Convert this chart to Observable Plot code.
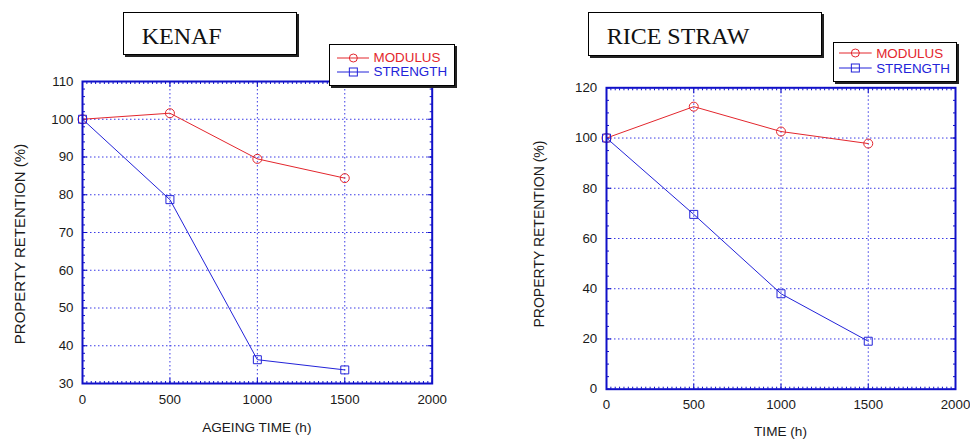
<!DOCTYPE html>
<html><head><meta charset="utf-8">
<script src="https://cdn.jsdelivr.net/npm/d3@7"></script>
<script src="https://cdn.jsdelivr.net/npm/@observablehq/plot@0.6"></script>
<style>
body{margin:0;background:#fff;}
#chart{position:relative;width:970px;height:439px;overflow:hidden;font-family:"Liberation Sans",Arial,sans-serif;}
.panel{position:absolute;top:0;}
.lbl{position:absolute;white-space:nowrap;color:#1a1a1a;}
.box{position:absolute;box-sizing:border-box;border:1.5px solid #000;box-shadow:2px 2px 0 #222;background:#fff;z-index:2;}
.ttl{position:absolute;font-family:"Liberation Serif","Times New Roman",serif;font-size:24px;line-height:24px;color:#111;white-space:nowrap;}
.leg{position:absolute;font-size:13.4px;line-height:13.4px;white-space:nowrap;}
</style></head>
<body><div id="chart"></div>
<script>
const TIME = [0, 500, 1000, 1500];
const KENAF_MODULUS = [100, 101.6, 89.5, 84.4];
const KENAF_STRENGTH = [100, 78.7, 36.3, 33.6];
const RICE_MODULUS = [100, 112.5, 102.6, 97.8];
const RICE_STRENGTH = [100, 69.6, 38.0, 19.1];
const X_TICKS = [0, 500, 1000, 1500, 2000];
const KENAF_Y_TICKS = [30, 40, 50, 60, 70, 80, 90, 100, 110];
const RICE_Y_TICKS = [0, 20, 40, 60, 80, 100, 120];
const SERIES = ["MODULUS", "STRENGTH"];
const TITLES = ["KENAF", "RICE STRAW"];
const X_LABELS = ["AGEING TIME (h)", "TIME (h)"];
const Y_LABEL = "PROPERTY RETENTION (%)";

const RED = "#e3262d", BLUE = "#2323d9", FRAME = "#1010c8", GRID = "#3a3ae6", TXT = "#1a1a1a";
const fmt = d => String(d);

function panel(cfg) {
  const rows = [];
  TIME.forEach((t, i) => {
    rows.push({t, v: cfg.modulus[i], s: SERIES[0]});
    rows.push({t, v: cfg.strength[i], s: SERIES[1]});
  });
  const yMinor = d3.range(cfg.yDomain[0], cfg.yDomain[1] + 0.001, cfg.yMinorStep);
  const xMinor = d3.range(0, 2001, 25);
  const tickOpts = (anchor, size) => ({anchor, tickSize: size, fill: "none", stroke: FRAME, label: null});
  return Plot.plot({
    width: 485, height: 439,
    marginLeft: cfg.m[0], marginRight: cfg.m[1], marginTop: cfg.m[2], marginBottom: cfg.m[3],
    style: {fontFamily: '"Liberation Sans", Arial, sans-serif', fontSize: "13.3px", background: "transparent", overflow: "visible"},
    x: {domain: [0, 2000]},
    y: {domain: cfg.yDomain},
    color: {domain: SERIES, range: [RED, BLUE]},
    symbol: {domain: SERIES, range: ["circle", "square"]},
    marks: [
      Plot.gridX(X_TICKS.slice(1, -1), {stroke: GRID, strokeOpacity: 1, strokeWidth: 1, strokeDasharray: "1.5,2.5"}),
      Plot.gridY(cfg.yTicks.slice(1, -1), {stroke: GRID, strokeOpacity: 1, strokeWidth: 1, strokeDasharray: "1.5,2.5"}),
      Plot.axisX(xMinor, tickOpts("bottom", -2)),
      Plot.axisX(xMinor, tickOpts("top", -2)),
      Plot.axisY(yMinor, tickOpts("left", -3)),
      Plot.axisY(yMinor, tickOpts("right", -3)),
      Plot.axisX(X_TICKS, tickOpts("bottom", -5)),
      Plot.axisX(X_TICKS, tickOpts("top", -5)),
      Plot.axisY(cfg.yTicks, tickOpts("left", -5)),
      Plot.axisY(cfg.yTicks, tickOpts("right", -5)),
      Plot.axisX(X_TICKS, {anchor: "bottom", tickSize: 0, tickPadding: cfg.xPad, tickFormat: fmt, fill: TXT, label: null}),
      Plot.axisY(cfg.yTicks, {anchor: "left", tickSize: 0, tickPadding: cfg.yPad, tickFormat: fmt, fill: TXT, label: null}),
      Plot.line(rows, {x: "t", y: "v", z: "s", stroke: "s", strokeWidth: 1}),
      Plot.dot(rows, {x: "t", y: "v", stroke: "s", symbol: "s", r: 4.5, fill: "none", strokeWidth: 1}),
      Plot.frame({stroke: FRAME, strokeWidth: 2})
    ]
  });
}

const chart = document.getElementById("chart");
function add(el, css) { Object.assign(el.style, css); chart.appendChild(el); return el; }
function label(text, cx, cy, fs, rotate) {
  const d = document.createElement("div");
  d.className = "lbl";
  d.textContent = text;
  add(d, {left: cx + "px", top: cy + "px", fontSize: fs + "px", lineHeight: fs + "px",
    transform: "translate(-50%,-50%)" + (rotate ? " rotate(-90deg)" : "")});
}
function titleBox(text, x0, y0, x1, y1, tx, baseline) {
  const b = document.createElement("div");
  b.className = "box";
  add(b, {left: x0 + "px", top: y0 + "px", width: (x1 - x0) + "px", height: (y1 - y0) + "px"});
  const s = document.createElement("span");
  s.className = "ttl";
  s.textContent = text;
  add(s, {left: tx + "px", top: (baseline - 20.1) + "px", zIndex: 3});
}
function legendBox(x0, y0, x1, y1, rowsY, lineX0, lineX1, textX) {
  const b = document.createElement("div");
  b.className = "box";
  add(b, {left: x0 + "px", top: y0 + "px", width: (x1 - x0) + "px", height: (y1 - y0) + "px"});
  SERIES.forEach((name, i) => {
    const col = i === 0 ? RED : BLUE;
    const cy = rowsY[i] - y0;
    const w = lineX1 - lineX0, mid = w / 2;
    const sym = i === 0
      ? `<circle cx="${mid}" cy="6" r="4" fill="none" stroke="${col}"/>`
      : `<rect x="${mid - 4}" y="2" width="8" height="8" fill="none" stroke="${col}"/>`;
    const svg = document.createElement("div");
    svg.innerHTML = `<svg width="${w}" height="12" style="display:block"><line x1="0" y1="6" x2="${w}" y2="6" stroke="${col}" stroke-width="1"/>${sym}</svg>`;
    Object.assign(svg.style, {position: "absolute", left: (lineX0 - x0 - 1.5) + "px", top: (cy - 6 - 1.5) + "px"});
    b.appendChild(svg);
    const t = document.createElement("div");
    t.className = "leg";
    t.textContent = name;
    Object.assign(t.style, {left: (textX - x0 - 1.5) + "px", top: (cy - 6.7 - 1.5) + "px", color: col});
    b.appendChild(t);
  });
}

const left = panel({modulus: KENAF_MODULUS, strength: KENAF_STRENGTH, yDomain: [30, 110], yTicks: KENAF_Y_TICKS,
  yMinorStep: 2, m: [82, 53.3, 81, 56], xPad: 11.5, yPad: 9});
left.classList.add("panel"); left.style.left = "0px";
chart.appendChild(left);
const right = panel({modulus: RICE_MODULUS, strength: RICE_STRENGTH, yDomain: [0, 120], yTicks: RICE_Y_TICKS,
  yMinorStep: 5, m: [121, 15, 87.3, 50.3], xPad: 10.8, yPad: 9.3});
right.classList.add("panel"); right.style.left = "485px";
chart.appendChild(right);

label(X_LABELS[0], 256.8, 427.7, 13.6, false);
label(X_LABELS[1], 780.5, 432, 13.6, false);
label(Y_LABEL, 18.8, 243.5, 15, true);
label(Y_LABEL, 538.5, 233.8, 14, true);

titleBox(TITLES[0], 122.7, 11.7, 297.3, 55.3, 141.7, 44.3);
titleBox(TITLES[1], 588.3, 11.7, 821.7, 55.7, 606.7, 44.3);

legendBox(329.3, 44.3, 455, 86, [58.3, 72.7], 337.3, 370, 374);
legendBox(832.7, 41.7, 957.3, 82.3, [54, 69], 840, 872.7, 876.7);
</script></body></html>
